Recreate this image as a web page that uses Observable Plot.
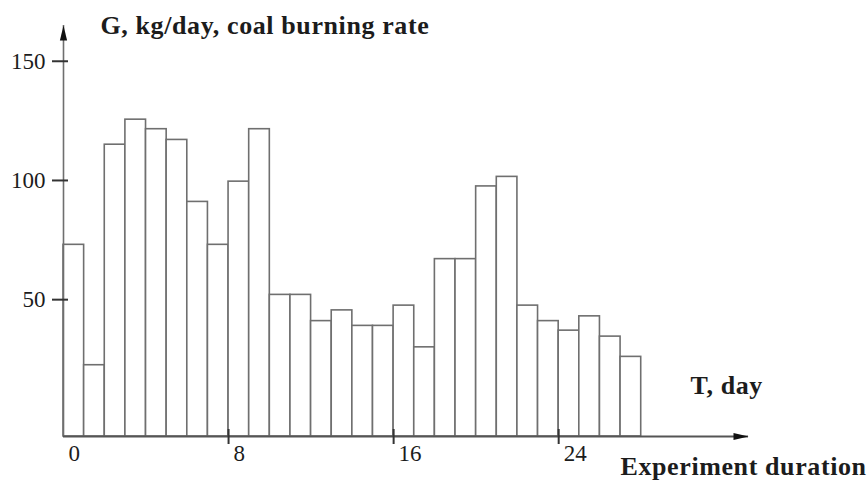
<!DOCTYPE html>
<html>
<head>
<meta charset="utf-8">
<script src="https://cdn.jsdelivr.net/npm/d3@7"></script>
<script src="https://cdn.jsdelivr.net/npm/@observablehq/plot@0.6"></script>
<style>
  html, body { margin: 0; padding: 0; background: #fff; }
</style>
</head>
<body>
<div id="chart"></div>
<script>
// Data
const dayStart = [0,1,2,3,4,5,6,7,8,9,10,11,12,13,14,15,16,17,18,19,20,21,22,23,24,25,26,27];
const rate = [73, 22.5, 115, 125.5, 121.5, 117, 91, 73, 99.5, 121.5, 52, 52, 41, 45.5, 39, 39, 47.5, 30, 67, 67, 97.5, 101.5, 47.5, 41, 37, 43, 34.5, 26];
const yTickValues = [50, 100, 150];
const xTickLabels = [0, 8, 16, 24];
const xTickMarks = [8, 16, 24];
const yTitle = "G, kg/day, coal burning rate";
const xTitle = "T, day";
const xCaption = "Experiment duration";

// Axis extents (the drawing's axes start below zero and end in arrows)
const xDomain = [0, 33.2];
const yDomain = [-7.4, 165];

const bars = dayStart.map((d, i) => ({start: d, end: d + 1, value: rate[i]}));

// Elongated filled arrowhead, tip at the origin pointing up
const arrowHead = {
  draw(ctx) {
    ctx.moveTo(0, 0);
    ctx.lineTo(3.6, 15);
    ctx.lineTo(-3.6, 15);
    ctx.closePath();
  }
};

const lineColor = "#6f6f6f";
const textColor = "#1c1c1c";
const W = 867, H = 481;
const mL = 63, mR = 119, mT = 25, mB = 45;
const frameW = W - mL - mR, frameH = H - mT - mB;

const chart = Plot.plot({
  width: W,
  height: H,
  marginLeft: mL,
  marginRight: mR,
  marginTop: mT,
  marginBottom: mB,
  style: {fontFamily: "'Liberation Serif', 'Times New Roman', serif", fontSize: "23px", color: textColor, background: "#fff", overflow: "visible"},
  x: {type: "linear", domain: xDomain},
  y: {type: "linear", domain: yDomain},
  marks: [
    Plot.rectY(bars, {x1: "start", x2: "end", y1: yDomain[0], y2: "value", fill: "#fff", stroke: lineColor, strokeWidth: 1.6}),
    // axes lines
    Plot.ruleX([0], {stroke: lineColor, strokeWidth: 1.6}),
    Plot.ruleY([yDomain[0]], {stroke: "#555", strokeWidth: 1.8}),
    Plot.dot([{x: 0, y: yDomain[1]}], {x: "x", y: "y", symbol: arrowHead, fill: "#111", stroke: "none"}),
    Plot.dot([{x: xDomain[1], y: yDomain[0]}], {x: "x", y: "y", symbol: arrowHead, rotate: 90, fill: "#111", stroke: "none"}),
    // tick marks
    Plot.tickY(yTickValues, {y: d => d, stroke: "#333", strokeWidth: 2, insetLeft: -11, insetRight: frameW - 5}),
    Plot.tickX(xTickMarks, {x: d => d, stroke: "#333", strokeWidth: 2, insetTop: frameH - 7, insetBottom: -8}),
    // tick labels
    Plot.axisY({ticks: yTickValues, tickSize: 0, tickPadding: 18, label: null, fontSize: 23, fill: textColor}),
    Plot.axisX({ticks: xTickLabels, tickSize: 0, tickPadding: 8, label: null, textAnchor: "start", dx: 5, fontSize: 23, fill: textColor}),
    // titles
    Plot.text([yTitle], {frameAnchor: "top-left", dx: 37, dy: 8, textAnchor: "start", lineAnchor: "bottom", fontWeight: "bold", fontSize: 26, fill: textColor, className: "bold-title"}),
    Plot.text([xTitle], {frameAnchor: "bottom-right", dx: -58, dy: -43, textAnchor: "start", lineAnchor: "bottom", fontWeight: "bold", fontSize: 26, fill: textColor, className: "bold-title"}),
    Plot.text([xCaption], {frameAnchor: "bottom-right", dx: -128, dy: 38, textAnchor: "start", lineAnchor: "bottom", fontWeight: "bold", fontSize: 26, fill: textColor, className: "bold-title"})
  ]
});
chart.querySelectorAll(".bold-title text").forEach(t => t.style.letterSpacing = "0.6px");
document.getElementById("chart").appendChild(chart);
</script>
</body>
</html>
